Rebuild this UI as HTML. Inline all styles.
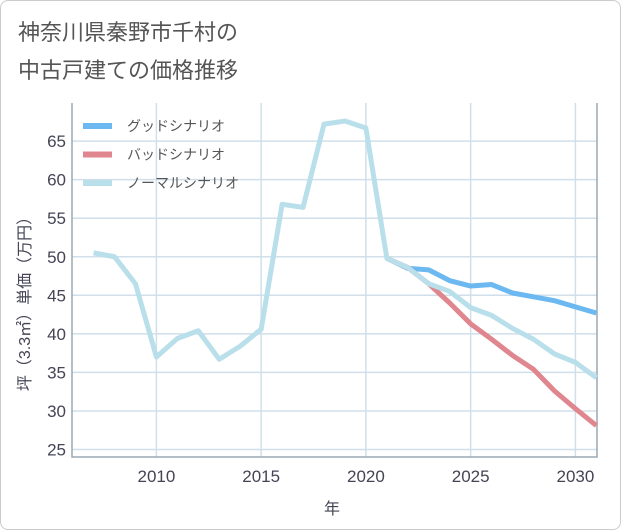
<!DOCTYPE html>
<html><head><meta charset="utf-8"><style>
body{margin:0;background:#fff;font-family:"Liberation Sans","Noto Sans CJK JP",sans-serif;}
#wrap{position:relative;width:619px;height:528px;border:1px solid #ccc;border-radius:8px;overflow:hidden;}
</style></head><body>
<div id="wrap">
<svg id="chart" width="621" height="530" style="position:absolute;left:-1px;top:-1px">
<text x="18" y="40" font-size="22" fill="#555">神奈川県秦野市千村の</text>
<text x="18" y="78" font-size="22" fill="#555">中古戸建ての価格推移</text>
<g id="grid"></g>
<g id="series"></g>
<g id="legend"></g>
<text x="332" y="514" font-size="16" fill="#445" text-anchor="middle">年</text>
<text transform="translate(30,300) rotate(-90)" font-size="16" fill="#445" text-anchor="middle">坪（3.3㎡）単価（万円）</text>
</svg>
</div>
<script>
const years=[2007,2008,2009,2010,2011,2012,2013,2014,2015,2016,2017,2018,2019,2020,2021,2022,2023,2024,2025,2026,2027,2028,2029,2030,2031];
const normalVals=[50.5,50,46.5,37,39.4,40.4,36.7,38.4,40.6,56.8,56.4,67.2,67.6,66.7,49.8,48.6,46.5,45.5,43.4,42.4,40.7,39.3,37.4,36.3,34.3];
const goodYears=[2021,2022,2023,2024,2025,2026,2027,2028,2029,2030,2031];
const goodVals=[49.8,48.5,48.3,46.9,46.2,46.4,45.3,44.8,44.3,43.5,42.7];
const badYears=[2021,2022,2023,2024,2025,2026,2027,2028,2029,2030,2031];
const badVals=[49.8,48.6,46.5,44,41.3,39.3,37.2,35.4,32.6,30.3,28.1];
const xTicks=[2010,2015,2020,2025,2030];
const yTicks=[25,30,35,40,45,50,55,60,65];
const L=72,R=597,T=103,B=457;
const x=v=>156.4+(v-2010)*20.95;
const y=v=>449.5-(v-25)*7.71;
const NS="http://www.w3.org/2000/svg";
function mk(t,a,p){const e=document.createElementNS(NS,t);for(const k in a)e.setAttribute(k,a[k]);p.appendChild(e);return e;}
const g=document.getElementById('grid');
yTicks.forEach(v=>{
 const l=mk('line',{x1:L,x2:R,y1:y(v),y2:y(v),stroke:'#d0dfea','stroke-width':1.5},g);
 
 
 const t=mk('text',{x:L-6,y:y(v)+6,'font-size':17,fill:'#445','text-anchor':'end'},g);t.textContent=v;
 
 
});
xTicks.forEach(v=>{
 const l=mk('line',{x1:x(v),x2:x(v),y1:T,y2:B,stroke:'#d0dfea','stroke-width':1.5},g);
 
 
 const t=mk('text',{x:x(v),y:B+25,'font-size':17,fill:'#445','text-anchor':'middle'},g);t.textContent=v;
 
 
});
const frame=mk('path',{d:`M${L},${T}V${B}H${R}V${T}`,fill:'none',stroke:'#9aa8b4','stroke-width':1.5},g);


const s=document.getElementById('series');
function line(xs,vs,c,name){
 const p=mk('polyline',{points:xs.map((yr,i)=>x(yr)+','+y(vs[i])).join(' '),fill:'none',stroke:c,'stroke-width':5,'stroke-linejoin':'round'},s);
 
 
}
line(goodYears,goodVals,'#6cb8f0','good-scenario-line');
line(badYears,badVals,'#e0868e','bad-scenario-line');
line(years,normalVals,'#b9dfea','normal-scenario-line');
const lg=document.getElementById('legend');
[['グッドシナリオ','#6cb8f0','legend-entry-good'],['バッドシナリオ','#e0868e','legend-entry-bad'],['ノーマルシナリオ','#b9dfea','legend-entry-normal']].forEach((d,i)=>{
 const yy=126+i*28.5;
 const r=mk('rect',{x:83,y:yy-3,width:29,height:6,fill:d[1]},lg);
 
 
 const t=mk('text',{x:127,y:yy+5,'font-size':14,fill:'#555'},lg);t.textContent=d[0];
 
 
});
</script>
</body></html>
